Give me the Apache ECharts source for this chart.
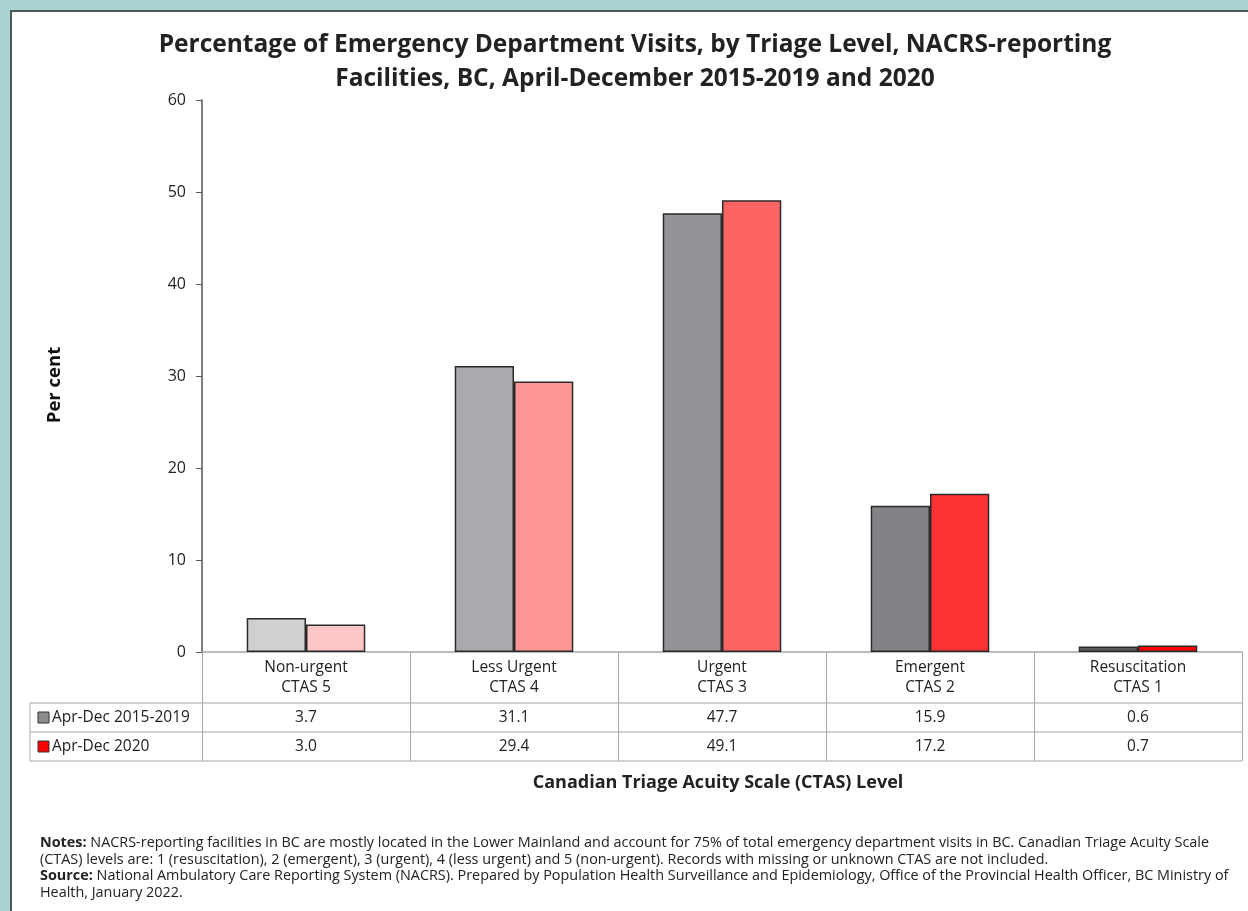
<!DOCTYPE html>
<html>
<head>
<meta charset="utf-8">
<script src="https://cdn.jsdelivr.net/npm/echarts@6/dist/echarts.min.js"></script>
<style>
html,body{margin:0;padding:0;background:#aad3d1;}
#c{width:1248px;height:911px;}
</style>
</head>
<body>
<div id="c"></div>
<script>
const categories = ['Non-urgent\nCTAS 5', 'Less Urgent\nCTAS 4', 'Urgent\nCTAS 3', 'Emergent\nCTAS 2', 'Resuscitation\nCTAS 1'];
const seriesNames = ['Apr-Dec 2015-2019', 'Apr-Dec 2020'];
const values2015_2019 = [3.7, 31.1, 47.7, 15.9, 0.6];
const values2020 = [3.0, 29.4, 49.1, 17.2, 0.7];
const yTicks = [0, 10, 20, 30, 40, 50, 60];

const grayShades = ['#d0d0d2', '#a9aaad', '#939498', '#838387', '#5c5c5f'];
const redShades = ['#ffc6c7', '#ff9696', '#ff6464', '#ff3333', '#ff0000'];

const FONT = '"Open Sans", Lato, sans-serif';
const G = {left: 202, top: 100, width: 1040, height: 552};
const tableLeft = 30;
const rowY = [652, 703, 732, 761];
const TS = 15.5;

const chart = echarts.init(document.getElementById('c'));

function tableAxis(offset, vals) {
  return {
    type: 'category', position: 'bottom', offset: offset, data: categories,
    axisLine: {show: false}, axisTick: {show: false},
    axisLabel: {margin: 7, fontFamily: FONT, fontSize: TS, color: '#222',
      formatter: (v, i) => vals[i].toFixed(1)}
  };
}

const option = {
  backgroundColor: '#aad3d1',
  animation: false,
  grid: {left: G.left, top: G.top, width: G.width, height: G.height, containLabel: false},
  xAxis: [
    {
      type: 'category', data: categories, position: 'bottom',
      axisLine: {lineStyle: {color: '#a6a6a6', width: 1.5}},
      axisTick: {show: true, length: rowY[3] - rowY[0], interval: 0, lineStyle: {color: '#a6a6a6', width: 1}},
      axisLabel: {margin: 6, fontFamily: FONT, fontSize: TS, color: '#222', lineHeight: 20, interval: 0}
    },
    tableAxis(rowY[1] - rowY[0], values2015_2019),
    tableAxis(rowY[2] - rowY[0], values2020)
  ],
  yAxis: {
    type: 'value', min: yTicks[0], max: yTicks[yTicks.length - 1], interval: 10,
    axisLine: {show: true, lineStyle: {color: '#555', width: 1.5}},
    axisTick: {show: true, length: 6, lineStyle: {color: '#555'}},
    axisLabel: {margin: 16, fontFamily: FONT, fontSize: 16, color: '#222'},
    splitLine: {show: false}
  },
  series: [
    {
      name: seriesNames[0], type: 'bar', barGap: 0, barCategoryGap: '43%',
      data: values2015_2019.map((v, i) => ({value: v, itemStyle: {color: grayShades[i]}})),
      itemStyle: {borderColor: '#2a2a2a', borderWidth: 1.5}
    },
    {
      name: seriesNames[1], type: 'bar', barGap: 0, barCategoryGap: '43%',
      data: values2020.map((v, i) => ({value: v, itemStyle: {color: redShades[i]}})),
      itemStyle: {borderColor: '#2a2a2a', borderWidth: 1.5}
    }
  ],
  graphic: [
    {type: 'rect', z: -10, shape: {x: 11, y: 11, width: 1260, height: 920},
      style: {fill: '#fff', stroke: '#4b5959', lineWidth: 2}},
    {type: 'text', x: 635, y: 28, style: {text: 'Percentage of Emergency Department Visits, by Triage Level, NACRS-reporting\nFacilities, BC, April-December 2015-2019 and 2020',
      font: 'bold 24.5px ' + FONT, fill: '#222', align: 'center', lineHeight: 34}},
    {type: 'text', x: 55, y: 385, rotation: Math.PI / 2, style: {text: 'Per cent', font: 'bold 18.5px ' + FONT, fill: '#111', align: 'center', verticalAlign: 'middle'}},
    ...rowY.slice(1).map(y => ({type: 'line', shape: {x1: tableLeft, y1: y, x2: G.left + G.width, y2: y},
      style: {stroke: '#a6a6a6', lineWidth: 1}})),
    {type: 'line', shape: {x1: tableLeft, y1: rowY[1], x2: tableLeft, y2: rowY[3]}, style: {stroke: '#a6a6a6', lineWidth: 1}},
    {type: 'rect', shape: {x: 38, y: 712, width: 11, height: 11}, style: {fill: '#8c8c8e', stroke: '#333', lineWidth: 1}},
    {type: 'text', x: 52, y: 717.5, style: {text: seriesNames[0], font: TS + 'px ' + FONT, fill: '#222', verticalAlign: 'middle'}},
    {type: 'rect', shape: {x: 38, y: 741, width: 11, height: 11}, style: {fill: '#ff0000', stroke: '#333', lineWidth: 1}},
    {type: 'text', x: 52, y: 746.5, style: {text: seriesNames[1], font: TS + 'px ' + FONT, fill: '#222', verticalAlign: 'middle'}},
    {type: 'text', x: 718, y: 783, style: {text: 'Canadian Triage Acuity Scale (CTAS) Level', font: 'bold 18px ' + FONT, fill: '#222', align: 'center', verticalAlign: 'middle'}},
    {type: 'text', x: 40, y: 835, style: {
      text: '{b|Notes:} NACRS-reporting facilities in BC are mostly located in the Lower Mainland and account for 75% of total emergency department visits in BC. Canadian Triage Acuity Scale\n(CTAS) levels are: 1 (resuscitation), 2 (emergent), 3 (urgent), 4 (less urgent) and 5 (non-urgent). Records with missing or unknown CTAS are not included.\n{b|Source:} National Ambulatory Care Reporting System (NACRS). Prepared by Population Health Surveillance and Epidemiology, Office of the Provincial Health Officer, BC Ministry of\nHealth, January 2022.',
      font: '14.4px ' + FONT, fill: '#222', lineHeight: 16.5,
      rich: {b: {fontWeight: 'bold', fontSize: 14.4, fontFamily: FONT, fill: '#222', lineHeight: 16.5}}
    }}
  ]
};
chart.setOption(option);
</script>
</body>
</html>
